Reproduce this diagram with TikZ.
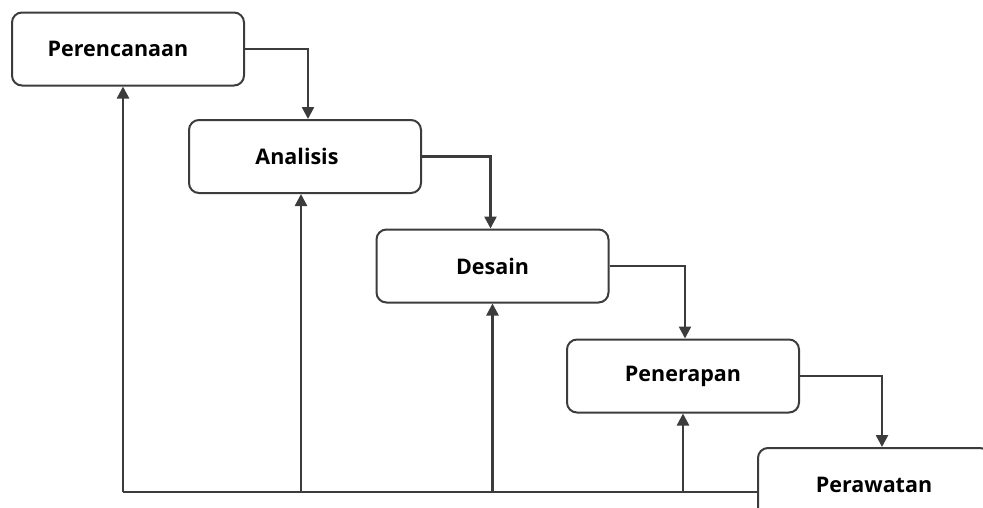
\documentclass[tikz,border=0pt]{standalone}
\usepackage{fontspec}
\setmainfont{Open Sans}
\usetikzlibrary{arrows.meta}
\definecolor{linegray}{HTML}{3C3C3C}
\begin{document}
\begin{tikzpicture}[x=1pt, y=-1pt,
  phase/.style={draw=linegray, line width=2pt, rounded corners=10pt, fill=white,
    minimum width=232pt, minimum height=73pt, inner sep=0pt,
    font=\fontsize{21.5}{24}\selectfont\bfseries},
  flow/.style={draw=linegray, line width=2.5pt, -{Triangle[length=12pt,width=12pt]}}]
  \useasboundingbox (0,0) rectangle (983,507);
  % phases
  \node[phase] (perencanaan) at (128,49) {Perencanaan\hspace*{20pt}};
  \node[phase] (analisis) at (305,156.5) {Analisis\hspace*{16pt}};
  \node[phase] (desain) at (492.5,266) {Desain};
  \node[phase] (penerapan) at (683,376) {Penerapan};
  \node[phase] (perawatan) at (874,484.5) {Perawatan};
  % forward flow
  \draw[flow] (perencanaan.east) -| ([xshift=3pt]analisis.north);
  \draw[flow] (analisis.east) -| ([xshift=-2pt]desain.north);
  \draw[flow] (desain.east) -| ([xshift=2pt]penerapan.north);
  \draw[flow] (penerapan.east) -| ([xshift=8pt]perawatan.north);
  % feedback
  \coordinate (base) at (123,492);
  \draw[draw=linegray, line width=2.5pt] (perawatan.west |- base) -- (base);
  \draw[flow] (base) -- (base |- perencanaan.south);
  \draw[flow] ([xshift=-4pt]analisis.south |- base) -- ([xshift=-4pt]analisis.south);
  \draw[flow] (desain.south |- base) -- (desain.south);
  \draw[flow] (penerapan.south |- base) -- (penerapan.south);
\end{tikzpicture}
\end{document}
